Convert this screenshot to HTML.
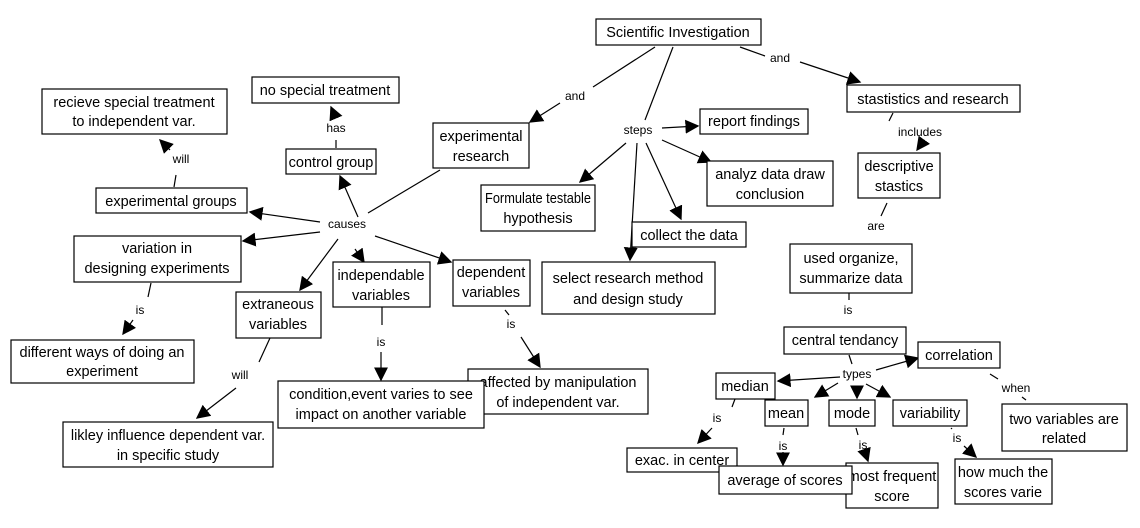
<!DOCTYPE html>
<html><head><meta charset="utf-8"><style>
html,body{margin:0;padding:0;background:#fff;}
svg{display:block;font-family:"Liberation Sans",Arial,sans-serif;}
.b{fill:#fff;stroke:#000;stroke-width:1.2;}
.t{font-size:14.5px;text-anchor:middle;fill:#000;}
.l{font-size:12px;text-anchor:middle;fill:#000;}
line{stroke:#000;stroke-width:1.2;}
</style></head><body>
<svg width="1140" height="528" viewBox="0 0 1140 528">
<defs><marker id="a" viewBox="0 0 10 10" refX="9" refY="5" markerWidth="14" markerHeight="14" markerUnits="userSpaceOnUse" orient="auto"><path d="M0,0L10,5L0,10z" fill="#000"/></marker></defs>
<g>
<line x1="655" y1="47" x2="593" y2="87"/><line x1="560" y1="103" x2="530" y2="122" marker-end="url(#a)"/>
<line x1="673" y1="47" x2="645" y2="120"/>
<line x1="740" y1="47" x2="765" y2="56"/><line x1="800" y1="62" x2="860" y2="82" marker-end="url(#a)"/>
<line x1="662" y1="128" x2="698" y2="126" marker-end="url(#a)"/>
<line x1="662" y1="140" x2="711" y2="162" marker-end="url(#a)"/>
<line x1="626" y1="143" x2="580" y2="182" marker-end="url(#a)"/>
<line x1="637" y1="143" x2="630" y2="260" marker-end="url(#a)"/>
<line x1="646" y1="143" x2="681" y2="219" marker-end="url(#a)"/>
<line x1="893" y1="113" x2="889" y2="121"/><line x1="922" y1="143" x2="917" y2="150" marker-end="url(#a)"/>
<line x1="887" y1="203" x2="881" y2="216"/>
<line x1="849" y1="293" x2="849" y2="300"/>
<line x1="849" y1="355" x2="852" y2="364"/>
<line x1="840" y1="377" x2="778" y2="381" marker-end="url(#a)"/>
<line x1="838" y1="383" x2="815" y2="397" marker-end="url(#a)"/>
<line x1="857" y1="386" x2="857" y2="398" marker-end="url(#a)"/>
<line x1="866" y1="384" x2="890" y2="397" marker-end="url(#a)"/>
<line x1="876" y1="370" x2="918" y2="358" marker-end="url(#a)"/>
<line x1="990" y1="374" x2="998" y2="379"/><line x1="1022" y1="397" x2="1026" y2="400"/>
<line x1="735" y1="399" x2="732" y2="407"/><line x1="712" y1="428" x2="698" y2="443" marker-end="url(#a)"/>
<line x1="784" y1="428" x2="783" y2="435"/><line x1="783" y1="452" x2="783" y2="465" marker-end="url(#a)"/>
<line x1="856" y1="428" x2="858" y2="435"/><line x1="866" y1="455" x2="868" y2="461" marker-end="url(#a)"/>
<line x1="951" y1="428" x2="952" y2="429"/>
<line x1="964" y1="446" x2="976" y2="457" marker-end="url(#a)"/>
<line x1="440" y1="170" x2="368" y2="213"/>
<line x1="358" y1="217" x2="340" y2="176" marker-end="url(#a)"/>
<line x1="320" y1="222" x2="250" y2="212" marker-end="url(#a)"/>
<line x1="320" y1="232" x2="243" y2="241" marker-end="url(#a)"/>
<line x1="338" y1="239" x2="300" y2="290" marker-end="url(#a)"/>
<line x1="355" y1="249" x2="364" y2="262" marker-end="url(#a)"/>
<line x1="375" y1="236" x2="451" y2="262" marker-end="url(#a)"/>
<line x1="336" y1="148" x2="336" y2="140"/><line x1="334" y1="114" x2="331" y2="107" marker-end="url(#a)"/>
<line x1="174" y1="187" x2="176" y2="175"/><line x1="170" y1="150" x2="160" y2="140" marker-end="url(#a)"/>
<line x1="151" y1="283" x2="148" y2="297"/><line x1="133" y1="320" x2="123" y2="334" marker-end="url(#a)"/>
<line x1="270" y1="338" x2="259" y2="362"/><line x1="236" y1="388" x2="197" y2="418" marker-end="url(#a)"/>
<line x1="382" y1="307" x2="382" y2="325"/><line x1="381" y1="352" x2="381" y2="380" marker-end="url(#a)"/>
<line x1="505" y1="310" x2="509" y2="315"/><line x1="521" y1="337" x2="540" y2="367" marker-end="url(#a)"/>
</g>
<g>
<text class="l" x="575" y="100">and</text><text class="l" x="780" y="62">and</text>
<text class="l" x="638" y="134">steps</text><text class="l" x="920" y="136">includes</text>
<text class="l" x="876" y="230">are</text><text class="l" x="848" y="314">is</text>
<text class="l" x="857" y="378">types</text><text class="l" x="1016" y="392">when</text>
<text class="l" x="717" y="422">is</text><text class="l" x="783" y="450">is</text><text class="l" x="863" y="449">is</text><text class="l" x="957" y="442">is</text>
<text class="l" x="347" y="228">causes</text><text class="l" x="336" y="132">has</text>
<text class="l" x="181" y="163">will</text><text class="l" x="140" y="314">is</text>
<text class="l" x="240" y="379">will</text><text class="l" x="381" y="346">is</text><text class="l" x="511" y="328">is</text>
</g>
<g>
<rect class="b" x="596" y="19" width="165" height="26"/><text class="t" x="678" y="37">Scientific Investigation</text>
<rect class="b" x="847" y="85" width="173" height="27"/><text class="t" x="933" y="104">stastistics and research</text>
<rect class="b" x="858" y="153" width="82" height="45"/><text class="t" x="899" y="171">descriptive</text><text class="t" x="899" y="191">stastics</text>
<rect class="b" x="790" y="244" width="122" height="49"/><text class="t" x="851" y="263">used organize,</text><text class="t" x="851" y="283">summarize data</text>
<rect class="b" x="784" y="327" width="122" height="27"/><text class="t" x="845" y="345">central tendancy</text>
<rect class="b" x="918" y="342" width="82" height="26"/><text class="t" x="959" y="360">correlation</text>
<rect class="b" x="716" y="373" width="59" height="26"/><text class="t" x="745" y="391">median</text>
<rect class="b" x="765" y="400" width="43" height="26"/><text class="t" x="786" y="418">mean</text>
<rect class="b" x="829" y="400" width="46" height="26"/><text class="t" x="852" y="418">mode</text>
<rect class="b" x="893" y="400" width="74" height="26"/><text class="t" x="930" y="418">variability</text>
<rect class="b" x="1002" y="404" width="125" height="47"/><text class="t" x="1064" y="424">two variables are</text><text class="t" x="1064" y="443">related</text>
<rect class="b" x="627" y="448" width="110" height="24"/><text class="t" x="682" y="465">exac. in center</text>
<rect class="b" x="846" y="463" width="92" height="45"/><text class="t" x="892" y="481">most frequent</text><text class="t" x="892" y="501">score</text>
<rect class="b" x="719" y="466" width="133" height="28"/><text class="t" x="785" y="485">average of scores</text>
<rect class="b" x="955" y="459" width="97" height="45"/><text class="t" x="1003" y="477">how much the</text><text class="t" x="1003" y="497">scores varie</text>
<rect class="b" x="700" y="109" width="108" height="25"/><text class="t" x="754" y="126">report findings</text>
<rect class="b" x="707" y="161" width="126" height="45"/><text class="t" x="770" y="179">analyz data draw</text><text class="t" x="770" y="199">conclusion</text>
<rect class="b" x="481" y="185" width="114" height="46"/><text class="t" x="538" y="203" textLength="106" lengthAdjust="spacingAndGlyphs">Formulate testable</text><text class="t" x="538" y="223">hypothesis</text>
<rect class="b" x="632" y="222" width="114" height="25"/><text class="t" x="689" y="240">collect the data</text>
<rect class="b" x="542" y="262" width="173" height="52"/><text class="t" x="628" y="283">select research method</text><text class="t" x="628" y="304">and design study</text>
<rect class="b" x="433" y="123" width="96" height="45"/><text class="t" x="481" y="141">experimental</text><text class="t" x="481" y="161">research</text>
<rect class="b" x="252" y="77" width="147" height="26"/><text class="t" x="325" y="95">no special treatment</text>
<rect class="b" x="286" y="149" width="90" height="25"/><text class="t" x="331" y="167">control group</text>
<rect class="b" x="42" y="89" width="185" height="45"/><text class="t" x="134" y="107">recieve  special treatment</text><text class="t" x="134" y="126">to independent var.</text>
<rect class="b" x="96" y="188" width="151" height="25"/><text class="t" x="171" y="206">experimental groups</text>
<rect class="b" x="74" y="236" width="167" height="46"/><text class="t" x="157" y="253">variation in</text><text class="t" x="157" y="273">designing experiments</text>
<rect class="b" x="11" y="340" width="183" height="43"/><text class="t" x="102" y="357">different ways of doing an</text><text class="t" x="102" y="376">experiment</text>
<rect class="b" x="236" y="292" width="85" height="46"/><text class="t" x="278" y="309">extraneous</text><text class="t" x="278" y="329">variables</text>
<rect class="b" x="333" y="262" width="97" height="45"/><text class="t" x="381" y="280">independable</text><text class="t" x="381" y="300">variables</text>
<rect class="b" x="453" y="260" width="77" height="46"/><text class="t" x="491" y="277">dependent</text><text class="t" x="491" y="297">variables</text>
<rect class="b" x="468" y="369" width="180" height="45"/><text class="t" x="558" y="387">affected by manipulation</text><text class="t" x="558" y="407">of independent var.</text>
<rect class="b" x="278" y="381" width="206" height="47"/><text class="t" x="381" y="399">condition,event varies to see</text><text class="t" x="381" y="419">impact on another variable</text>
<rect class="b" x="63" y="422" width="210" height="45"/><text class="t" x="168" y="440">likley influence dependent var.</text><text class="t" x="168" y="460">in specific study</text>
</g>
</svg>
</body></html>
